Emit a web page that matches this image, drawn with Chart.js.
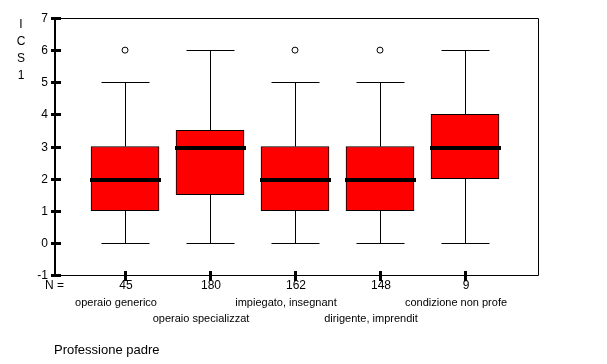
<!DOCTYPE html>
<html>
<head>
<meta charset="utf-8">
<script src="https://cdn.jsdelivr.net/npm/chart.js@4/dist/chart.umd.min.js"></script>
<style>
  html, body { margin: 0; padding: 0; background: #fff; }
  #wrap { width: 607px; height: 364px; }
</style>
</head>
<body>
<div id="wrap"><canvas id="myChart" width="607" height="364"></canvas></div>
<script>
// data
const categories = ['operaio generico', 'operaio specializzat', 'impiegato, insegnant', 'dirigente, imprendit', 'condizione non profe'];
const nValues = [45, 180, 162, 148, 9];
const whiskerLow = [0, 0, 0, 0, 0];
const q1 = [1, 1.5, 1, 1, 2];
const medians = [2, 3, 2, 2, 3];
const q3 = [3, 3.5, 3, 3, 4];
const whiskerHigh = [5, 6, 5, 5, 6];
const outliers = [[6], [], [6], [6], []];
const yTicks = [-1, 0, 1, 2, 3, 4, 5, 6, 7];
const yTitle = ['I', 'C', 'S', '1'];
const xTitle = 'Professione padre';

const FONT = '"Liberation Sans", Arial, sans-serif';

const boxData = categories.map((c, i) => ({ x: i + 1, y: [q1[i], q3[i]] }));
const outlierData = [];
outliers.forEach((arr, i) => arr.forEach(v => outlierData.push({ x: i + 1, y: v })));

// whiskers, medians, axes
const boxPlotExtras = {
    id: 'boxPlotExtras',
    beforeDatasetsDraw(chart) {
        const ctx = chart.ctx;
        const xs = chart.scales.x, ys = chart.scales.y;
        const capHalf = 24;
        ctx.save();
        ctx.strokeStyle = '#000';
        ctx.lineWidth = 1;
        categories.forEach((c, i) => {
            const x = Math.round(xs.getPixelForValue(i + 1)) + 0.5;
            const yLo = Math.round(ys.getPixelForValue(whiskerLow[i])) + 0.5;
            const yHi = Math.round(ys.getPixelForValue(whiskerHigh[i])) + 0.5;
            const yQ1 = ys.getPixelForValue(q1[i]);
            const yQ3 = ys.getPixelForValue(q3[i]);
            ctx.beginPath();
            ctx.moveTo(x, yLo); ctx.lineTo(x, yQ1);
            ctx.moveTo(x, yQ3); ctx.lineTo(x, yHi);
            ctx.moveTo(x - capHalf, yLo); ctx.lineTo(x + capHalf, yLo);
            ctx.moveTo(x - capHalf, yHi); ctx.lineTo(x + capHalf, yHi);
            ctx.stroke();
        });
        ctx.restore();
    },
    afterDatasetsDraw(chart) {
        const ctx = chart.ctx;
        const xs = chart.scales.x, ys = chart.scales.y;
        ctx.save();
        ctx.fillStyle = '#000';
        categories.forEach((c, i) => {
            const x = Math.round(xs.getPixelForValue(i + 1));
            const y = Math.round(ys.getPixelForValue(medians[i]));
            ctx.fillRect(x - 35, y - 1, 71, 4);
        });
        ctx.restore();
    },
    afterDraw(chart) {
        const ctx = chart.ctx;
        const xs = chart.scales.x, ys = chart.scales.y;
        const a = chart.chartArea;
        const L = Math.round(a.left), R = Math.round(a.right), T = Math.round(a.top), B = Math.round(a.bottom);
        ctx.save();
        ctx.strokeStyle = '#000';
        ctx.fillStyle = '#000';
        ctx.lineWidth = 1;
        // frame
        ctx.beginPath();
        ctx.moveTo(L + 0.5, T + 0.5); ctx.lineTo(R + 0.5, T + 0.5); ctx.lineTo(R + 0.5, B + 0.5); ctx.lineTo(L + 0.5, B + 0.5);
        ctx.stroke();
        ctx.fillRect(L - 1, T, 2, B - T + 2);
        // y ticks and labels
        ctx.font = '12px ' + FONT;
        ctx.textAlign = 'right';
        ctx.textBaseline = 'middle';
        yTicks.forEach(t => {
            const y = Math.round(ys.getPixelForValue(t));
            ctx.fillRect(L - 4, y - 1, 10, 3);
            ctx.fillText(String(t), L - 7, y + 1);
        });
        // y title, stacked letters
        ctx.textAlign = 'center';
        yTitle.forEach((ch, k) => ctx.fillText(ch, 21, 25 + k * 17));
        // x ticks, N values, category names
        ctx.textAlign = 'left';
        ctx.fillText('N =', 45, 286);
        categories.forEach((c, i) => {
            const x = Math.round(xs.getPixelForValue(i + 1));
            ctx.fillRect(x - 1, B - 4, 3, 10);
            ctx.textAlign = 'center';
            ctx.font = '12px ' + FONT;
            ctx.fillText(String(nValues[i]), x + 1, 286);
            ctx.font = '11px ' + FONT;
            ctx.fillText(c, x - 9, i % 2 === 0 ? 303 : 319);
        });
        ctx.textAlign = 'left';
        ctx.font = '13px ' + FONT;
        ctx.fillText(xTitle, 54, 350);
        ctx.restore();
    }
};

new Chart(document.getElementById('myChart'), {
    type: 'bar',
    data: {
        datasets: [{
            type: 'bar',
            data: boxData,
            backgroundColor: '#ff0000',
            borderColor: '#000',
            borderWidth: 1,
            borderSkipped: false,
            barThickness: 68,
            grouped: false
        }, {
            type: 'scatter',
            data: outlierData,
            pointStyle: 'circle',
            pointRadius: 3,
            pointBorderWidth: 1,
            pointBackgroundColor: '#fff',
            pointBorderColor: '#000'
        }]
    },
    options: {
        responsive: false,
        animation: false,
        layout: { padding: { left: 55, top: 18, right: 69, bottom: 89 } },
        plugins: { legend: { display: false }, tooltip: { enabled: false } },
        scales: {
            x: { type: 'linear', min: 0.176, max: 5.859, offset: false, display: false },
            y: { type: 'linear', min: -1, max: 7, display: false }
        }
    },
    plugins: [boxPlotExtras]
});
</script>
</body>
</html>
